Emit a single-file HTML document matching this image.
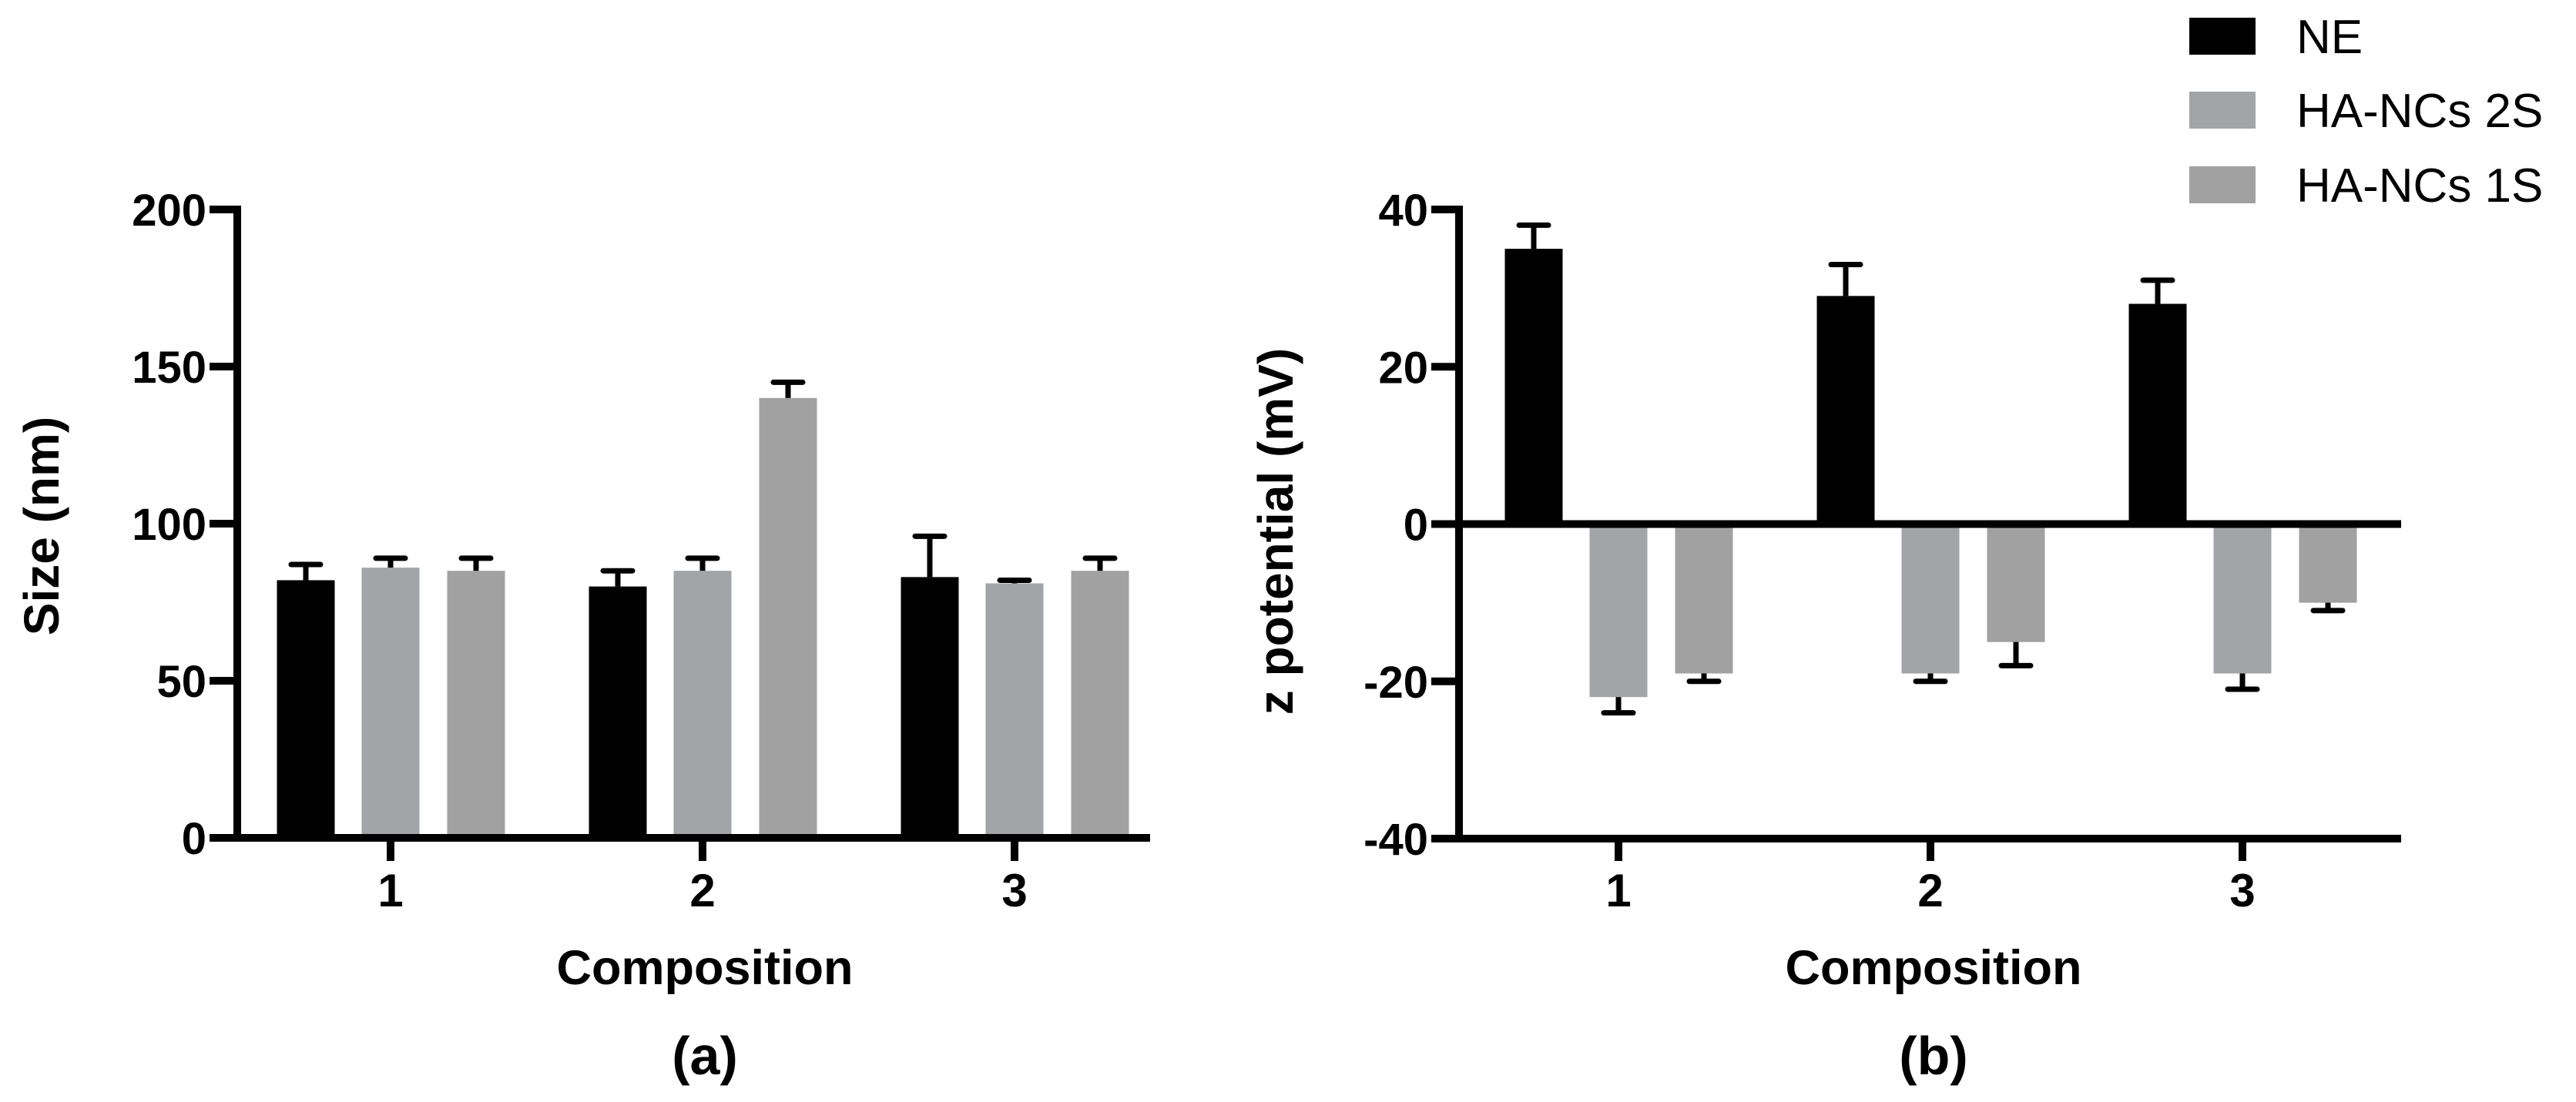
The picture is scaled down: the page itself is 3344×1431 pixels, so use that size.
<!DOCTYPE html>
<html><head><meta charset="utf-8"><style>
html,body{margin:0;padding:0;background:#fff;}
svg{display:block;}
text{font-family:"Liberation Sans",Arial,sans-serif;fill:#000;}
</style></head>
<body>
<svg id="fig" width="3344" height="1431" viewBox="0 0 3344 1431" xmlns="http://www.w3.org/2000/svg">
<g id="chartA"></g>
<g id="chartB"></g>
<g id="legend"></g>
</svg>
<script>
const categories = ["1", "2", "3"];
const seriesNames = ["NE", "HA-NCs 2S", "HA-NCs 1S"];
const sizeNE = [82, 80, 83];
const sizeNE_err = [87, 85, 96];
const size2S = [86, 85, 81];
const size2S_err = [89, 89, 82];
const size1S = [85, 140, 85];
const size1S_err = [89, 145, 89];
const sizeTicks = [0, 50, 100, 150, 200];
const zetaNE = [35, 29, 28];
const zetaNE_err = [38, 33, 31];
const zeta2S = [-22, -19, -19];
const zeta2S_err = [-24, -20, -21];
const zeta1S = [-19, -15, -10];
const zeta1S_err = [-20, -18, -11];
const zetaTicks = [-40, -20, 0, 20, 40];

const NS = "http://www.w3.org/2000/svg";
const colors = ["#000000", "#a3a4a7", "#a1a1a1"];
function mk(parent, tag, attrs, txt) {
  const e = document.createElementNS(NS, tag);
  for (const k in attrs) e.setAttribute(k, attrs[k]);
  if (txt !== undefined) e.textContent = txt;
  parent.appendChild(e);
  return e;
}

function drawChart(g, cfg) {
  const y = v => cfg.y0 - (v - cfg.vmin) * (cfg.y0 - cfg.y1) / (cfg.vmax - cfg.vmin);
  const x = i => cfg.xFirst + i * cfg.xStep;
  const offsets = [-110, 0, 111];
  const bw = 75;
  // bars
  cfg.series.forEach((s, si) => {
    s.vals.forEach((v, i) => {
      const cx = x(i) + offsets[si];
      const top = Math.min(y(v), y(0)), bot = Math.max(y(v), y(0));
      const r = mk(g, "rect", {x: cx - bw / 2, y: top, width: bw, height: bot - top, fill: colors[si]});
      
      
      const e = s.err[i];
      const eb = mk(g, "line", {x1: cx, x2: cx, y1: y(v), y2: y(e), stroke: "#000", "stroke-width": 7});
      
      
      const cap = mk(g, "line", {x1: cx - 19, x2: cx + 19, y1: y(e), y2: y(e), stroke: "#000", "stroke-width": 7, "stroke-linecap": "round"});
      
      
    });
  });
  // axes
  const ax = cfg.axisX;
  const ya = mk(g, "line", {x1: ax, x2: ax, y1: y(cfg.vmax) - 5, y2: y(cfg.vmin) + 5, stroke: "#000", "stroke-width": 10});
  
  
  cfg.hLines.forEach(v => {
    const l = mk(g, "line", {x1: ax - 5, x2: cfg.xEnd, y1: y(v), y2: y(v), stroke: "#000", "stroke-width": 10});
    
    
  });
  cfg.ticks.forEach(t => {
    const tl = mk(g, "line", {x1: ax - 36, x2: ax, y1: y(t), y2: y(t), stroke: "#000", "stroke-width": 10});
    
    
    const tt = mk(g, "text", {x: ax - 40, y: y(t) + 21, "text-anchor": "end", "font-size": 58, "font-weight": "bold"}, String(t));
    
    
  });
  const yb = y(cfg.vmin);
  categories.forEach((c, i) => {
    const tk = mk(g, "line", {x1: x(i), x2: x(i), y1: yb, y2: 1118, stroke: "#000", "stroke-width": 10});
    
    
    const tl = mk(g, "text", {x: x(i), y: 1177, "text-anchor": "middle", "font-size": 60, "font-weight": "bold"}, c);
    
    
  });
  const xt = mk(g, "text", {x: cfg.titleX, y: 1278, "text-anchor": "middle", "font-size": 63, "font-weight": "bold"}, "Composition");
  
  
  const yt = mk(g, "text", {transform: "translate(" + cfg.yTitleX + "," + cfg.yTitleY + ") rotate(-90)", "text-anchor": "middle", "font-size": 64, "font-weight": "bold"}, cfg.yTitle);
  
  
  const pl = mk(g, "text", {x: cfg.titleX, y: 1395, "text-anchor": "middle", "font-size": 70, "font-weight": "bold"}, cfg.panel);
  
  
}

drawChart(document.getElementById("chartA"), {
  id: "size", vmin: 0, vmax: 200, y0: 1088, y1: 272, xFirst: 507, xStep: 405,
  axisX: 308, xEnd: 1493, hLines: [0], ticks: sizeTicks,
  series: [{vals: sizeNE, err: sizeNE_err}, {vals: size2S, err: size2S_err}, {vals: size1S, err: size1S_err}],
  titleX: 915, yTitle: "Size (nm)", yTitleX: 76, yTitleY: 683, panel: "(a)"
});
drawChart(document.getElementById("chartB"), {
  id: "zeta", vmin: -40, vmax: 40, y0: 1089, y1: 272, xFirst: 2101, xStep: 405,
  axisX: 1894, xEnd: 3117, hLines: [0, -40], ticks: zetaTicks,
  series: [{vals: zetaNE, err: zetaNE_err}, {vals: zeta2S, err: zeta2S_err}, {vals: zeta1S, err: zeta1S_err}],
  titleX: 2510, yTitle: "z potential (mV)", yTitleX: 1678, yTitleY: 690, panel: "(b)"
});

const lg = document.getElementById("legend");
const legendTops = [23, 119, 216];
seriesNames.forEach((n, i) => {
  const r = mk(lg, "rect", {x: 2842, y: legendTops[i], width: 86, height: 48, fill: colors[i]});
  
  
  const t = mk(lg, "text", {x: 2981, y: legendTops[i] + 46, "font-size": 62}, n);
  
  
});
</script>
</body></html>
